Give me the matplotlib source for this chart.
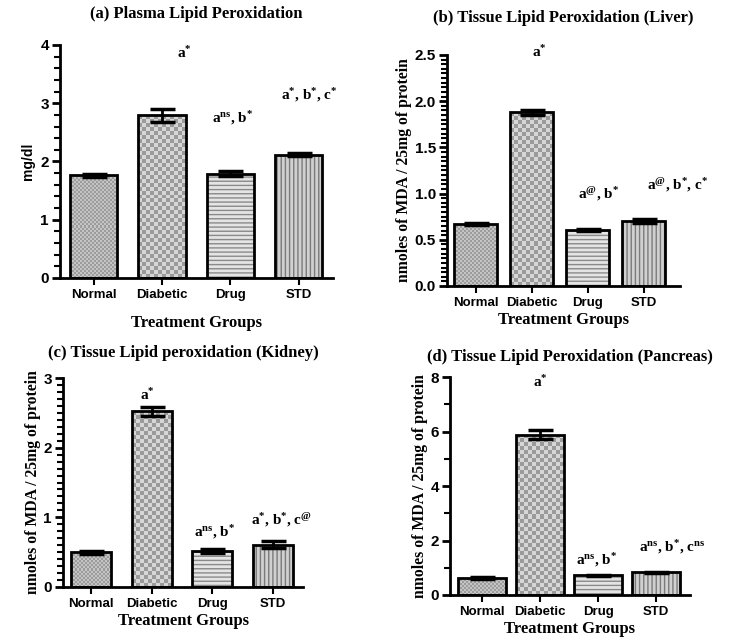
import numpy as np
import matplotlib
matplotlib.use("Agg")
import matplotlib.pyplot as plt
from matplotlib.colors import ListedColormap
from matplotlib.ticker import MultipleLocator, FormatStrFormatter

plt.rcParams['mathtext.fontset'] = 'custom'
plt.rcParams['mathtext.rm'] = 'Liberation Serif:bold'
plt.rcParams['mathtext.it'] = 'Liberation Serif:bold'
plt.rcParams['mathtext.bf'] = 'Liberation Serif:bold'
plt.rcParams['hatch.linewidth'] = 1.0

# ---------------- data ----------------
groups = ["Normal", "Diabetic", "Drug", "STD"]

titles = ["(a) Plasma Lipid Peroxidation",
          "(b) Tissue Lipid Peroxidation (Liver)",
          "(c) Tissue Lipid peroxidation (Kidney)",
          "(d) Tissue Lipid Peroxidation (Pancreas)"]
ylabels = ["mg/dl",
           "nmoles of MDA / 25mg of protein",
           "nmoles of MDA / 25mg of protein",
           "nmoles of MDA / 25mg of protein"]
xlabel = "Treatment Groups"

plasma_mean = [1.76, 2.79, 1.79, 2.12]
plasma_err = [0.03, 0.11, 0.04, 0.03]
liver_mean = [0.67, 1.88, 0.61, 0.70]
liver_err = [0.01, 0.03, 0.01, 0.02]
kidney_mean = [0.50, 2.52, 0.52, 0.61]
kidney_err = [0.02, 0.06, 0.03, 0.05]
pancreas_mean = [0.63, 5.88, 0.72, 0.83]
pancreas_err = [0.03, 0.17, 0.02, 0.03]

ann_text = [r"a$^{*}$", r"a$^{\mathrm{ns}}$, b$^{*}$", r"a$^{*}$, b$^{*}$, c$^{*}$",
            r"a$^{*}$", r"a$^{@}$, b$^{*}$", r"a$^{@}$, b$^{*}$, c$^{*}$",
            r"a$^{*}$", r"a$^{\mathrm{ns}}$, b$^{*}$", r"a$^{*}$, b$^{*}$, c$^{@}$",
            r"a$^{*}$", r"a$^{\mathrm{ns}}$, b$^{*}$", r"a$^{\mathrm{ns}}$, b$^{*}$, c$^{\mathrm{ns}}$"]
ann_x = [1.32, 2.04, 3.15, 1.13, 2.2, 3.6, 0.92, 2.04, 3.14, 1.0, 1.98, 3.28]
ann_y = [3.86, 2.75, 3.14, 2.53, 1.0, 1.09, 2.75, 0.79, 0.96, 7.8, 1.28, 1.76]

means = [plasma_mean, liver_mean, kidney_mean, pancreas_mean]
errs = [plasma_err, liver_err, kidney_err, pancreas_err]
ymax = [4, 2.5, 3, 8]
ymajor = [1, 0.5, 1, 2]
yminor = [0.2, 0.05, 0.1, 1]
yfmt = ["%d", "%.1f", "%d", "%d"]

# ---------------- layout ----------------
W, H = 734, 642
boxes = [(60, 333, 278, 45), (447, 680, 286, 55), (63, 303, 587, 378), (450, 690, 595, 377)]
xlims = [(-0.49, 3.5), (-0.51, 3.65), (-0.47, 3.5), (-0.56, 3.59)]
widths = [0.69, 0.78, 0.66, 0.83]
title_y = [14, 18, 353, 357]

fig = plt.figure(figsize=(W / 100, H / 100), dpi=100)
serif = "Liberation Serif"
sans = "Liberation Sans"


def texture(ax, bar, cell_px, c1, c2):
    x0, w, h = bar.get_x(), bar.get_width(), bar.get_height()
    p0 = ax.transData.transform((x0, 0))
    p1 = ax.transData.transform((x0 + w, h))
    nx = max(1, int(round((p1[0] - p0[0]) / cell_px)))
    ny = max(1, int(round((p1[1] - p0[1]) / cell_px)))
    arr = np.add.outer(np.arange(ny), np.arange(nx)) % 2
    im = ax.imshow(arr, extent=(x0, x0 + w, 0, h), cmap=ListedColormap([c1, c2]),
                   aspect='auto', interpolation='nearest', zorder=1.5)
    im.set_clip_path(bar)


for i in range(4):
    l, r, b, t = boxes[i]
    ax = fig.add_axes([l / W, 1 - b / H, (r - l) / W, (b - t) / H])
    x = np.arange(len(groups))
    ax.set_xlim(*xlims[i])
    ax.set_ylim(0, ymax[i])
    wd = widths[i]
    m = means[i]
    bars = ax.bar(x, m, width=wd, color="#c0c0c0", linewidth=0, zorder=1)
    # textures
    texture(ax, bars[0], 2, "#9c9c9c", "#c4c4c4")
    texture(ax, bars[1], 4, "#9a9a9a", "#d6d6d6")
    bars[2].set_facecolor("#e4e4e4")
    bars[2].set_edgecolor("#8a8a8a")
    bars[2].set_hatch("----")
    bars[3].set_facecolor("#d0d0d0")
    bars[3].set_edgecolor("#7a7a7a")
    bars[3].set_hatch("||||")
    ax.bar(x, m, width=wd, fill=False, edgecolor="black", linewidth=2, zorder=2)
    ax.errorbar(x, m, yerr=errs[i], fmt='none', ecolor='black', elinewidth=2,
                capsize=9, capthick=2.5, zorder=3)
    ax.set_xlim(*xlims[i])
    ax.set_ylim(0, ymax[i])

    for s in ["top", "right"]:
        ax.spines[s].set_visible(False)
    for s in ["left", "bottom"]:
        ax.spines[s].set_linewidth(2)
    ax.yaxis.set_major_locator(MultipleLocator(ymajor[i]))
    ax.yaxis.set_minor_locator(MultipleLocator(yminor[i]))
    ax.yaxis.set_major_formatter(FormatStrFormatter(yfmt[i]))
    ax.tick_params(axis='y', which='major', length=6, width=2, direction='out', pad=2)
    ax.tick_params(axis='y', which='minor', length=4, width=1.5, direction='out')
    ax.tick_params(axis='x', which='major', length=5, width=1.5, direction='out', pad=3)
    ax.set_xticks(x)
    ax.set_xticklabels(groups)
    for lab in ax.get_xticklabels():
        lab.set_fontfamily(sans)
        lab.set_fontweight("bold")
        lab.set_fontsize(9.5)
    for lab in ax.get_yticklabels():
        lab.set_fontfamily(sans)
        lab.set_fontweight("bold")
        lab.set_fontsize(11)

    ax.set_xlabel(xlabel, fontfamily=serif, fontweight="bold", fontsize=12,
                  labelpad=10 if i == 0 else 2)
    if i == 0:
        ax.set_ylabel(ylabels[i], fontfamily=sans, fontweight="bold", fontsize=10, labelpad=4)
    else:
        ax.set_ylabel(ylabels[i], fontfamily=serif, fontweight="bold", fontsize=11.3, labelpad=2)

    cx = (l + r) / 2 / W
    fig.text(cx, 1 - title_y[i] / H, titles[i], ha='center', va='center',
             fontfamily=serif, fontweight='bold', fontsize=12)

    for k in range(3):
        j = i * 3 + k
        ax.text(ann_x[j], ann_y[j], ann_text[j], ha='center', va='center',
                fontfamily=serif, fontweight='bold',
                fontsize=11, clip_on=False, zorder=4)

fig.savefig("out.png", dpi=100, facecolor="white")
